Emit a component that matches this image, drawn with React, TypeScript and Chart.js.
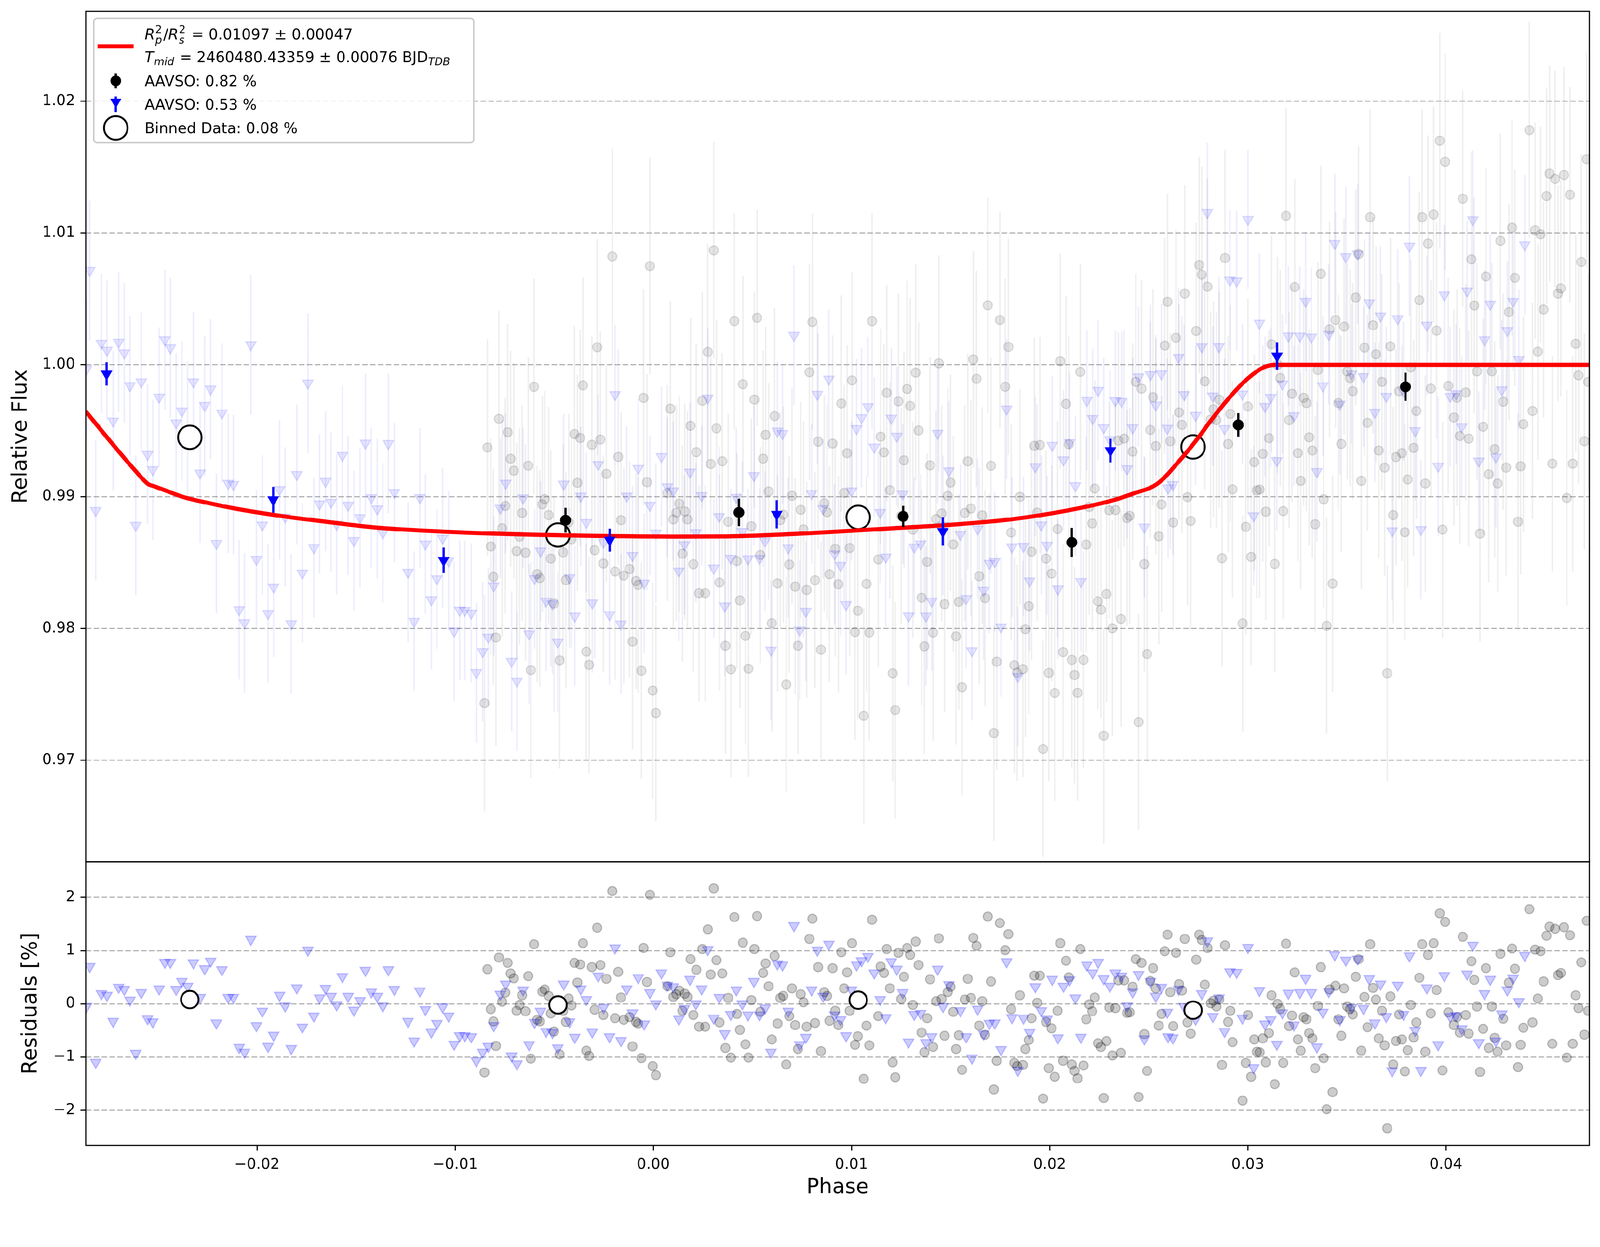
import React, { useEffect, useRef } from "react";
import { Chart, registerables } from "chart.js";

Chart.register(...registerables);

const FONT = "DejaVu Sans";
const W = 4215;
const H = 3192;

// ---- axis ranges and tick labels ----
const xMin = -0.02864;
const xMax = 0.04724;
const fluxMin = 0.9623;
const fluxMax = 1.02681;
const resMin = -2.66;
const resMax = 2.67;
const xTicks = [-0.02, -0.01, 0.0, 0.01, 0.02, 0.03, 0.04];
const fluxTicks = [0.97, 0.98, 0.99, 1.0, 1.01, 1.02];
const resTicks = [-2, -1, 0, 1, 2];

// ---- transit model (red line) ----
const modelPhase = [-0.029, -0.02865, -0.02738, -0.02616, -0.02549, -0.0252, -0.0245, -0.02372, -0.0225, -0.02127, -0.01883, -0.01638, -0.01395, -0.00944, -0.004, 0.001, 0.00343, 0.00659, 0.00929, 0.01208, 0.01515, 0.01808, 0.02101, 0.02322, 0.0242, 0.02544, 0.02661, 0.02741, 0.02821, 0.029, 0.02981, 0.03061, 0.031, 0.0314, 0.048];
const modelFlux = [0.99712, 0.99648, 0.99415, 0.992, 0.99095, 0.99079, 0.9904, 0.98997, 0.98953, 0.98914, 0.98854, 0.98807, 0.98765, 0.98727, 0.98705, 0.98697, 0.98698, 0.98713, 0.98735, 0.9876, 0.98788, 0.98828, 0.98898, 0.98973, 0.99022, 0.99098, 0.99282, 0.99429, 0.99591, 0.99738, 0.9987, 0.99965, 0.99992, 1.0, 1.0];

// ---- AAVSO 0.82 % (grey circles): [phase, residual %] ----
const grayData: [number, number][] = [
  [-0.00852, -1.29], [-0.00837, 0.65], [-0.0082, -0.1], [-0.00807, -0.33], [-0.00794, -0.79], [-0.00779, 0.87], [-0.00763, 0.04], [-0.00747, 0.21], [-0.00735, 0.77], [-0.0072, 0.57],
  [-0.00704, 0.48], [-0.0069, -0.13], [-0.00675, -0.02], [-0.00662, 0.16], [-0.00645, -0.14], [-0.00631, 0.52], [-0.00618, -1.03], [-0.00602, 1.12], [-0.00586, -0.3], [-0.00573, -0.33],
  [-0.0056, 0.23], [-0.00548, 0.27], [-0.00528, 0.15], [-0.00517, -0.18], [-0.00501, -0.52], [-0.00473, -0.95], [-0.00455, -0.13], [-0.00441, -0.34], [-0.00427, 0.1], [-0.00413, -0.03],
  [-0.00398, 0.77], [-0.00383, 0.4], [-0.00369, 0.74], [-0.00355, 1.14], [-0.00338, -0.88], [-0.00324, -0.98], [-0.0031, 0.69], [-0.00296, -0.11], [-0.00283, 1.43], [-0.00267, 0.73],
  [-0.00252, -0.21], [-0.00237, 0.47], [-0.00207, 2.12], [-0.00193, -0.27], [-0.00177, 0.6], [-0.00163, 0.12], [-0.00149, -0.3], [-0.0012, -0.25], [-0.00105, -0.8], [-0.00087, -0.34],
  [-0.00077, -0.37], [-0.0006, -1.02], [-0.00049, 1.05], [-0.00032, 0.41], [-0.00017, 2.05], [-0.00003, -1.17], [0.00013, -1.34], [0.00071, 0.33], [0.00086, 0.97], [0.00101, 0.13],
  [0.00116, 0.18], [0.00131, 0.25], [0.00147, -0.13], [0.00159, 0.19], [0.00172, 0.13], [0.00188, 0.84], [0.00202, -0.21], [0.00217, 0.64], [0.00231, -0.43], [0.00247, 1.03],
  [0.00262, -0.43], [0.00275, 1.4], [0.0029, 0.55], [0.00305, 2.17], [0.00319, 0.82], [0.00334, -0.35], [0.00348, 0.57], [0.00364, -0.83], [0.00378, 0.11], [0.00392, -1.01],
  [0.00409, 1.63], [0.00422, -0.19], [0.00437, -0.49], [0.00452, 1.15], [0.00465, -0.76], [0.0048, -1.01], [0.00495, 0.07], [0.0051, 1.03], [0.00524, 1.65], [0.0054, -0.15],
  [0.00554, 0.58], [0.00567, 0.76], [0.00582, 0.33], [0.00598, -0.67], [0.00612, 0.9], [0.00627, -0.37], [0.00641, 0.11], [0.00656, 0.15], [0.00671, -1.14], [0.00686, -0.23],
  [0.007, 0.29], [0.00716, -0.4], [0.0073, -0.85], [0.00744, 0.18], [0.00758, 0.03], [0.00774, -0.43], [0.00788, 1.22], [0.00803, 1.6], [0.00816, -0.36], [0.00832, 0.69],
  [0.00846, -0.89], [0.00863, 0.22], [0.00877, 0.15], [0.00889, -0.32], [0.00905, 0.67], [0.00918, -0.13], [0.00934, -0.4], [0.00949, 0.97], [0.00963, 0.29], [0.00978, 0.59],
  [0.00991, -0.13], [0.01003, 1.14], [0.01018, -0.77], [0.01032, -0.61], [0.01062, -1.41], [0.01076, -0.41], [0.0109, -0.78], [0.01104, 1.58], [0.01135, -0.23], [0.01147, 0.7],
  [0.01164, 0.58], [0.01178, 1.03], [0.01194, 0.29], [0.01208, -1.1], [0.01221, -1.38], [0.01237, 0.96], [0.01251, 0.09], [0.01265, 0.51], [0.01281, 1.05], [0.01296, 0.92],
  [0.0131, -0.02], [0.01324, 1.17], [0.01339, 0.73], [0.01354, -0.54], [0.01368, -0.91], [0.01382, -0.27], [0.01397, 0.46], [0.01412, -0.81], [0.01427, 0.05], [0.01441, 1.23],
  [0.01455, 0.09], [0.0147, -0.6], [0.01486, 0.22], [0.015, 0.32], [0.01514, -0.15], [0.01528, -0.85], [0.01542, -0.59], [0.01558, -1.24], [0.01572, 0.08], [0.01587, 0.47],
  [0.01603, 0.11], [0.01615, 1.24], [0.01631, 1.09], [0.01645, -0.41], [0.0166, 0.05], [0.01674, -0.58], [0.01688, 1.64], [0.01704, 0.42], [0.01719, -1.61], [0.01733, -1.07],
  [0.01749, 1.52], [0.01776, 1.01], [0.01792, 1.31], [0.01806, -0.1], [0.01822, -1.11], [0.01836, -1.17], [0.0185, 0.16], [0.01865, -1.15], [0.01878, -0.85], [0.01895, -0.68],
  [0.01909, -0.27], [0.01923, 0.53], [0.01937, 0.02], [0.01951, 0.53], [0.01967, -1.78], [0.01982, -0.34], [0.01996, -1.21], [0.0201, -0.46], [0.02026, -1.37], [0.0204, -0.13],
  [0.02054, 1.14], [0.02068, -1.07], [0.02083, 0.81], [0.02097, 0.5], [0.02112, -1.14], [0.02126, -1.26], [0.02141, -1.4], [0.02155, 1.03], [0.02171, -1.16], [0.02185, -0.29],
  [0.022, -0.01], [0.02215, -0.14], [0.02228, 0.12], [0.02244, -0.74], [0.02259, -0.81], [0.02273, -1.77], [0.02287, -0.7], [0.02301, -0.07], [0.02317, -0.97], [0.02332, -0.08],
  [0.02347, 0.44], [0.0236, -0.92], [0.02376, 0.44], [0.02391, -0.17], [0.02404, -0.16], [0.02419, 0.32], [0.02435, 0.84], [0.02449, -1.75], [0.02464, 0.77], [0.02478, -0.57],
  [0.02492, -1.26], [0.02508, 0.43], [0.02522, 0.67], [0.02536, 0.29], [0.02551, -0.41], [0.02565, -0.19], [0.02581, 0.99], [0.02595, 1.3], [0.02609, 0.22], [0.02624, -0.42],
  [0.02638, 0.96], [0.02653, 0.37], [0.02668, 0.25], [0.02682, 1.22], [0.02696, -0.35], [0.02712, -0.56], [0.0274, 0.83], [0.02755, 1.3], [0.02768, 1.2], [0.02783, 0.36],
  [0.02797, 1.05], [0.02813, 0.01], [0.02827, 0.06], [0.02842, -0.05], [0.02856, 0.08], [0.0287, -1.15], [0.02885, 1.1], [0.02901, -0.34], [0.02912, -0.13], [0.02923, -0.72],
  [0.02974, -1.82], [0.0299, -1.11], [0.03001, -0.21], [0.03017, -1.37], [0.03033, -0.67], [0.03046, -0.9], [0.0306, -0.91], [0.03076, -0.65], [0.03091, -1.1], [0.03107, -0.55],
  [0.0312, 0.16], [0.03136, -1.51], [0.0315, 0.0], [0.03164, -0.1], [0.03179, -1.11], [0.03193, 1.13], [0.03209, -0.42], [0.03223, -0.22], [0.03237, 0.59], [0.03253, -0.67],
  [0.03267, -0.88], [0.03282, -0.25], [0.03296, -0.29], [0.0331, -0.55], [0.03326, -0.65], [0.0334, -1.21], [0.03354, -0.04], [0.03369, 0.69], [0.03383, -1.02], [0.03398, -1.98],
  [0.03413, 0.27], [0.03428, -1.66], [0.03443, 0.34], [0.03457, -0.29], [0.03472, -0.6], [0.03486, 0.29], [0.03502, -0.05], [0.03516, -0.1], [0.0353, -0.2], [0.03545, 0.51],
  [0.03559, 0.84], [0.03573, -0.88], [0.03589, 0.13], [0.03604, -0.44], [0.03618, 1.12], [0.03632, 0.3], [0.03647, 0.08], [0.03661, -0.65], [0.03677, -0.13], [0.03691, -0.78],
  [0.03704, -2.34], [0.0372, 0.14], [0.03734, -1.14], [0.03748, -0.7], [0.03764, -0.2], [0.03778, -0.67], [0.03793, -1.27], [0.03807, -0.87], [0.03823, -0.02], [0.03837, -0.63],
  [0.03851, -0.35], [0.03866, 0.49], [0.0388, 1.12], [0.03896, -0.9], [0.0391, 0.92], [0.03924, -0.18], [0.03938, 1.14], [0.03953, 0.26], [0.03969, 1.7], [0.03983, -1.25],
  [0.03996, 1.54], [0.04012, -0.16], [0.0404, -0.4], [0.04056, -0.25], [0.0407, -0.54], [0.04085, 1.26], [0.041, -0.21], [0.04115, -0.56], [0.04129, 0.8], [0.04143, 0.45],
  [0.04157, -0.05], [0.04172, -1.28], [0.04188, -0.47], [0.04202, 0.67], [0.04216, -0.83], [0.04232, -0.05], [0.04246, -0.64], [0.04261, -0.9], [0.04275, 0.94], [0.04289, -0.28],
  [0.04304, -0.78], [0.04318, 0.4], [0.04334, 1.04], [0.04348, 0.66], [0.04364, -1.19], [0.04377, -0.77], [0.04391, -0.45], [0.04421, 1.78], [0.04437, -0.35], [0.0445, 1.02],
  [0.04464, 0.1], [0.04478, 0.99], [0.04493, 0.42], [0.04508, 1.28], [0.04523, 1.45], [0.04537, -0.75], [0.04551, 1.41], [0.04566, 0.54], [0.0458, 0.58], [0.04596, 1.44],
  [0.0461, -1.01], [0.04626, 1.29], [0.0464, -0.75], [0.04655, 0.16], [0.04669, -0.08], [0.04683, 0.78], [0.04699, -0.58], [0.04711, 1.56], [0.04718, -0.13],
];

// ---- AAVSO 0.53 % (blue triangles): [phase, residual %] ----
const blueData: [number, number][] = [
  [-0.0286, -0.05], [-0.02844, 0.7], [-0.02814, -1.1], [-0.02785, 0.19], [-0.02757, 0.16], [-0.02726, -0.33], [-0.02698, 0.31], [-0.0267, 0.27], [-0.02641, 0.07], [-0.02612, -0.93],
  [-0.02584, 0.21], [-0.02552, -0.28], [-0.02526, -0.34], [-0.02494, 0.28], [-0.02465, 0.78], [-0.02437, 0.78], [-0.02408, 0.27], [-0.02379, 0.42], [-0.0235, 0.33], [-0.02321, 0.77],
  [-0.02287, 0.12], [-0.02264, 0.66], [-0.02234, 0.8], [-0.02205, -0.36], [-0.02177, 0.64], [-0.02145, 0.12], [-0.02119, 0.12], [-0.0209, -0.82], [-0.02063, -0.91], [-0.02031, 1.21],
  [-0.02003, -0.41], [-0.01973, -0.14], [-0.01944, -0.8], [-0.01916, -0.59], [-0.01886, 0.16], [-0.01858, -0.04], [-0.01827, -0.84], [-0.01799, 0.3], [-0.01771, -0.44], [-0.01743, 1.01],
  [-0.01713, -0.23], [-0.01684, 0.11], [-0.01654, 0.29], [-0.01626, 0.14], [-0.01598, -0.02], [-0.01569, 0.51], [-0.0154, 0.14], [-0.01511, -0.12], [-0.0148, 0.06], [-0.01453, 0.63],
  [-0.01423, 0.22], [-0.01393, 0.14], [-0.01365, -0.04], [-0.01337, 0.64], [-0.01307, 0.27], [-0.01238, -0.33], [-0.01207, -0.7], [-0.01178, 0.24], [-0.0115, -0.11], [-0.0112, -0.53],
  [-0.01092, -0.37], [-0.01063, -0.06], [-0.01033, -0.23], [-0.01005, -0.76], [-0.00977, -0.6], [-0.00951, -0.6], [-0.00919, -0.62], [-0.00893, -1.07], [-0.00861, -0.91], [-0.00833, -0.8],
  [-0.00805, -0.41], [-0.00772, 0.18], [-0.00745, 0.37], [-0.00715, -0.98], [-0.00688, -1.13], [-0.00657, 0.26], [-0.00627, -0.77], [-0.00599, -0.35], [-0.00569, -0.14], [-0.00541, -0.52],
  [-0.00509, -0.54], [-0.00482, -0.83], [-0.00452, 0.37], [-0.00423, -0.34], [-0.00396, -0.63], [-0.00366, 0.28], [-0.00338, 0.08], [-0.00308, -0.53], [-0.00278, 0.52], [-0.00251, -0.07],
  [-0.00221, -0.62], [-0.00193, 1.05], [-0.00163, -0.69], [-0.00134, 0.28], [-0.00105, -0.17], [-0.00076, 0.49], [-0.00046, -0.38], [-0.00017, 0.21], [0.00013, 0.0], [0.00041, 0.58],
  [0.00071, 0.35], [0.001, 0.32], [0.00129, -0.29], [0.00157, -0.09], [0.00185, 0.46], [0.00215, 0.0], [0.00244, 0.28], [0.00275, 1.02], [0.00305, -0.27], [0.00333, 0.12],
  [0.00361, -0.56], [0.00391, -0.2], [0.00419, 0.26], [0.00449, 0.0], [0.00478, -0.21], [0.00508, 0.42], [0.00536, -0.21], [0.00564, -0.08], [0.00594, -0.91], [0.00626, 0.75],
  [0.00652, 0.73], [0.00681, -0.14], [0.0071, 1.47], [0.00739, -0.77], [0.0077, -0.63], [0.00799, 0.26], [0.00828, 1.01], [0.00857, 0.14], [0.00886, 1.12], [0.00915, -0.21],
  [0.00945, -0.3], [0.00973, -0.6], [0.01, 0.26], [0.01026, 0.73], [0.01051, 0.81], [0.01083, 0.89], [0.01115, 0.58], [0.01145, 0.08], [0.01173, -0.26], [0.01201, 0.79],
  [0.01229, 0.65], [0.01259, 0.21], [0.01288, -0.72], [0.01317, -0.2], [0.01349, -0.18], [0.01376, -0.73], [0.01405, -0.62], [0.01435, 0.65], [0.01462, -0.05], [0.01492, 0.36],
  [0.0155, -0.13], [0.01579, -0.62], [0.01608, -1.02], [0.01637, -0.1], [0.01667, -0.57], [0.01696, -0.37], [0.01723, -0.36], [0.01755, -0.86], [0.01783, 0.79], [0.0181, -0.26],
  [0.0184, -1.25], [0.01868, -0.27], [0.01899, -0.54], [0.01928, 0.32], [0.01958, -0.13], [0.01987, -0.29], [0.02013, 0.46], [0.02042, -0.64], [0.0207, 0.33], [0.02101, 0.45],
  [0.0213, 0.11], [0.02158, -0.63], [0.02188, 0.73], [0.02217, 0.58], [0.02245, 0.78], [0.02273, 0.47], [0.02304, 0.33], [0.02332, 0.58], [0.02363, 0.52], [0.02391, -0.04],
  [0.02419, 0.22], [0.02449, 0.55], [0.02478, -0.66], [0.02509, 0.42], [0.02536, 0.14], [0.02564, 0.31], [0.02594, -0.16], [0.02598, -0.62], [0.02622, -0.64], [0.02651, 0.27],
  [0.02679, -0.05], [0.02737, -0.29], [0.02768, 0.19], [0.02796, 1.18], [0.02824, -0.24], [0.02855, 0.11], [0.02883, -0.52], [0.0291, 0.6], [0.02944, 0.59], [0.02973, -0.27],
  [0.03001, 1.06], [0.0303, -1.2], [0.03059, 0.25], [0.03087, -0.38], [0.03116, -0.3], [0.03147, -0.76], [0.03175, -0.17], [0.03205, 0.2], [0.03233, -0.4], [0.03263, 0.21],
  [0.03292, 0.48], [0.03321, 0.21], [0.03349, -0.81], [0.03379, -0.16], [0.03409, 0.23], [0.03439, 0.92], [0.03465, -0.3], [0.03495, 0.82], [0.03524, -0.07], [0.03555, 0.84],
  [0.03584, -0.09], [0.03613, 0.47], [0.03641, -0.36], [0.0367, 0.37], [0.03699, -0.24], [0.03729, -1.26], [0.03757, 0.35], [0.03786, -0.2], [0.03816, 0.9], [0.03845, -0.5],
  [0.03874, -1.25], [0.03904, 0.3], [0.03961, -0.77], [0.03992, 0.53], [0.04022, -0.24], [0.04051, -0.22], [0.0408, -0.47], [0.04107, 0.56], [0.04136, 1.1], [0.04166, -0.73],
  [0.04195, 0.19], [0.04224, 0.46], [0.04252, -0.7], [0.04282, -0.19], [0.0431, 0.26], [0.04339, 0.48], [0.04368, 0.04], [0.04398, 0.91],
];

// offset (in %) between the blue flux in the top panel and model + residual
const blueOffPhase = [-0.029, -0.0285, -0.0276, -0.0265, -0.0255, -0.025, -0.0244, -0.0238, -0.0232, -0.0226, -0.02, -0.015, 0.015, 0.02, 0.0226, 0.0238, 0.0245, 0.0251, 0.0256, 0.0265, 0.0275, 0.0285, 0.03, 0.0315, 0.033, 0.048];
const blueOffPct = [0.3, 0.4, 0.5, 0.53, 0.5, 0.42, 0.32, 0.23, 0.12, 0.07, 0.05, 0.0, 0.05, 0.05, 0.08, 0.23, 0.32, 0.43, 0.49, 0.52, 0.48, 0.38, 0.15, 0.03, 0.0, 0.0];

const grayErr = 0.0082;
const blueErr = 0.0053;

// ---- binned data ----
const binPhase = [-0.02339, -0.00481, 0.01034, 0.02724];
const binFlux = [0.9945, 0.98709, 0.98843, 0.99377];
const binRes = [0.08, -0.02, 0.07, -0.12];

const blackBinPhase = [-0.00443, 0.00432, 0.01261, 0.02112, 0.02952, 0.03796];
const blackBinFlux = [0.98821, 0.9888, 0.9885, 0.98653, 0.99544, 0.99833];
const blackBinErr = [0.00094, 0.00104, 0.0008, 0.0011, 0.00089, 0.00107];

const blueBinPhase = [-0.02759, -0.01918, -0.01058, -0.0022, 0.00623, 0.01461, 0.02307, 0.03148];
const blueBinFlux = [0.99931, 0.98976, 0.98517, 0.9867, 0.98866, 0.98736, 0.99349, 1.00067];
const blueBinErr = [0.00088, 0.00098, 0.00097, 0.00087, 0.00107, 0.00108, 0.0009, 0.00104];

// ---- helpers ----
function interp(xs: number[], ys: number[], x: number) {
  if (x <= xs[0]) return ys[0];
  for (let i = 1; i < xs.length; i++) {
    if (x <= xs[i]) {
      const t = (x - xs[i - 1]) / (xs[i] - xs[i - 1]);
      return ys[i - 1] + t * (ys[i] - ys[i - 1]);
    }
  }
  return ys[ys.length - 1];
}

function errSegments(pts: { x: number; y: number }[], errs: number[] | number) {
  const out: { x: number; y: number | null }[] = [];
  pts.forEach((p, i) => {
    const e = Array.isArray(errs) ? errs[i] : errs;
    out.push({ x: p.x, y: p.y - e }, { x: p.x, y: p.y + e }, { x: p.x, y: null });
  });
  return out;
}

const fmtX = (v: number) => {
  const s = Math.abs(v).toFixed(2);
  return v < -1e-9 ? "\u2212" + s : s;
};
const fmtRes = (v: number) => (v < 0 ? "\u2212" + Math.abs(v) : String(v));

const framePlugin = {
  id: "frame",
  afterDatasetsDraw(chart: any) {
    const { ctx, chartArea: a } = chart;
    ctx.save();
    ctx.strokeStyle = "#000";
    ctx.lineWidth = 3;
    ctx.strokeRect(a.left, a.top, a.right - a.left, a.bottom - a.top);
    ctx.restore();
  },
};

type Run = { t: string; it?: boolean; size?: number; dy?: number; sub?: string; sup?: string; subDy?: number; kern?: number };

function drawRuns(ctx: CanvasRenderingContext2D, x0: number, base: number, runs: Run[]) {
  let x = x0;
  for (const r of runs) {
    if (r.sub !== undefined || r.sup !== undefined) {
      let w = 0;
      if (r.sup !== undefined) {
        ctx.font = `28px "${FONT}"`;
        ctx.fillText(r.sup, x, base - 17);
        w = Math.max(w, ctx.measureText(r.sup).width);
      }
      if (r.sub !== undefined) {
        ctx.font = `italic 28px "${FONT}"`;
        ctx.fillText(r.sub, x, base + (r.subDy ?? 9));
        w = Math.max(w, ctx.measureText(r.sub).width);
      }
      x += w + (r.kern ?? 4);
      continue;
    }
    ctx.font = `${r.it ? "italic " : ""}${r.size ?? 39}px "${FONT}"`;
    ctx.fillText(r.t, x, base - (r.dy ?? 0));
    x += ctx.measureText(r.t).width + (r.kern ?? 0);
  }
}

const legendPlugin = {
  id: "mplLegend",
  afterDraw(chart: any) {
    const ctx: CanvasRenderingContext2D = chart.ctx;
    ctx.save();
    const bx = 247, by = 48, bw = 1001, bh = 328, rr = 9;
    ctx.beginPath();
    ctx.moveTo(bx + rr, by);
    ctx.arcTo(bx + bw, by, bx + bw, by + bh, rr);
    ctx.arcTo(bx + bw, by + bh, bx, by + bh, rr);
    ctx.arcTo(bx, by + bh, bx, by, rr);
    ctx.arcTo(bx, by, bx + bw, by, rr);
    ctx.closePath();
    ctx.fillStyle = "rgba(255,255,255,0.8)";
    ctx.fill();
    ctx.strokeStyle = "#cccccc";
    ctx.lineWidth = 4;
    ctx.stroke();

    ctx.strokeStyle = "#ff0000";
    ctx.lineWidth = 11;
    ctx.beginPath();
    ctx.moveTo(257, 122);
    ctx.lineTo(352, 122);
    ctx.stroke();

    ctx.strokeStyle = "#000";
    ctx.lineWidth = 6;
    ctx.beginPath();
    ctx.moveTo(305, 193);
    ctx.lineTo(305, 233);
    ctx.stroke();
    ctx.fillStyle = "#000";
    ctx.beginPath();
    ctx.arc(305, 213, 14, 0, Math.PI * 2);
    ctx.fill();

    ctx.strokeStyle = "#0000ff";
    ctx.beginPath();
    ctx.moveTo(305, 254);
    ctx.lineTo(305, 295);
    ctx.stroke();
    ctx.fillStyle = "#0000ff";
    const r = 17, cy = 268.5;
    ctx.beginPath();
    ctx.moveTo(305, cy + r);
    ctx.lineTo(305 - r * 0.866, cy - r / 2);
    ctx.lineTo(305 + r * 0.866, cy - r / 2);
    ctx.closePath();
    ctx.fill();

    ctx.fillStyle = "#fff";
    ctx.strokeStyle = "#000";
    ctx.lineWidth = 5;
    ctx.beginPath();
    ctx.arc(305, 337, 31, 0, Math.PI * 2);
    ctx.fill();
    ctx.stroke();

    ctx.fillStyle = "#000";
    ctx.textBaseline = "alphabetic";
    ctx.textAlign = "left";
    const tx = 381;
    drawRuns(ctx, tx, 104, [
      { t: "R", it: true, kern: 1 },
      { t: "", sup: "2", sub: "p", subDy: 11, kern: 3 },
      { t: "/" },
      { t: "R", it: true, kern: 1 },
      { t: "", sup: "2", sub: "s", subDy: 11, kern: 3 },
      { t: " = 0.01097 \u00b1 0.00047" },
    ]);
    drawRuns(ctx, tx, 164, [
      { t: "T", it: true, kern: 1 },
      { t: "", sub: "mid", subDy: 8, kern: 2 },
      { t: " = 2460480.43359 \u00b1 0.00076 BJD" },
      { t: "", sub: "TDB", subDy: 8 },
    ]);
    ctx.font = `39px "${FONT}"`;
    ctx.fillText("AAVSO: 0.82 %", tx, 227);
    ctx.fillText("AAVSO: 0.53 %", tx, 289);
    ctx.fillText("Binned Data: 0.08 %", tx, 351);
    ctx.restore();
  },
};

const tickFont = { family: FONT, size: 39 };
const titleFont = { family: FONT, size: 55 };

export default function App() {
  const wrapRef = useRef<HTMLDivElement>(null);
  const topRef = useRef<HTMLCanvasElement>(null);
  const botRef = useRef<HTMLCanvasElement>(null);

  useEffect(() => {
    document.body.style.margin = "0";
    document.body.style.overflow = "hidden";
    const vw = window.innerWidth || W;
    const s = vw / W;
    if (wrapRef.current) {
      wrapRef.current.style.transform = Math.abs(s - 1) > 0.001 ? `scale(${s})` : "none";
    }

    const modelAt = (x: number) => interp(modelPhase, modelFlux, x);
    const blueOffAt = (x: number) => interp(blueOffPhase, blueOffPct, x);

    const grayTop = grayData.map(([p, r]) => ({ x: p, y: modelAt(p) + r / 100 }));
    const blueTop = blueData.map(([p, r]) => ({ x: p, y: modelAt(p) + (r + blueOffAt(p)) / 100 }));
    const modelPts = modelPhase.map((p, i) => ({ x: p, y: modelFlux[i] }));
    const binPts = binPhase.map((p, i) => ({ x: p, y: binFlux[i] }));
    const blackPts = blackBinPhase.map((p, i) => ({ x: p, y: blackBinFlux[i] }));
    const blueBinPts = blueBinPhase.map((p, i) => ({ x: p, y: blueBinFlux[i] }));

    const errLine = (data: any[], color: string, width: number, order: number) => ({
      type: "line",
      data,
      showLine: true,
      borderColor: color,
      borderWidth: width,
      pointRadius: 0,
      spanGaps: false,
      tension: 0,
      borderCapStyle: "butt",
      order,
    });
    const pts = (data: any[], style: string, radius: number, bg: string, border: string, bw: number, order: number, rot = 0) => ({
      type: "line",
      data,
      showLine: false,
      pointStyle: style,
      pointRadius: radius,
      pointRotation: rot,
      pointBackgroundColor: bg,
      pointBorderColor: border,
      pointBorderWidth: bw,
      backgroundColor: bg,
      borderColor: border,
      order,
    });

    const top = new Chart(topRef.current as HTMLCanvasElement, {
      type: "line",
      data: {
        datasets: [
          errLine(errSegments(grayTop, grayErr), "rgba(128,128,128,0.13)", 4, 20),
          pts(grayTop, "circle", 12, "rgba(0,0,0,0.1)", "rgba(0,0,0,0.12)", 3, 19),
          errLine(errSegments(blueTop, blueErr), "rgba(0,0,255,0.07)", 4, 18),
          pts(blueTop, "triangle", 16, "rgba(0,0,255,0.1)", "rgba(0,0,255,0.12)", 3, 17, 180),
          pts(binPts, "circle", 31, "#ffffff", "#000000", 5, 15),
          {
            type: "line",
            data: modelPts,
            borderColor: "#ff0000",
            borderWidth: 11,
            pointRadius: 0,
            cubicInterpolationMode: "monotone",
            borderJoinStyle: "round",
            order: 14,
          },
          errLine(errSegments(blackPts, blackBinErr), "#000000", 6, 13),
          pts(blackPts, "circle", 14, "#000000", "#000000", 1, 12),
          errLine(errSegments(blueBinPts, blueBinErr), "#0000ff", 6, 11),
          pts(blueBinPts, "triangle", 17, "#0000ff", "#0000ff", 1, 10, 180),
        ] as any,
      },
      options: {
        animation: false,
        responsive: false,
        devicePixelRatio: 1,
        events: [],
        layout: { autoPadding: false, padding: { left: 0, right: 28, top: 30, bottom: 20 } },
        plugins: { legend: { display: false }, tooltip: { enabled: false } },
        scales: {
          x: {
            type: "linear",
            min: xMin,
            max: xMax,
            display: false,
            afterFit: (sc: any) => {
              sc.paddingLeft = 0;
              sc.paddingRight = 0;
            },
          },
          y: {
            type: "linear",
            min: fluxMin,
            max: fluxMax,
            afterBuildTicks: (sc: any) => {
              sc.ticks = fluxTicks.map((v) => ({ value: v }));
            },
            afterFit: (sc: any) => {
              sc.width = 226;
              sc.paddingTop = 0;
              sc.paddingBottom = 0;
            },
            ticks: {
              callback: (v: any) => Number(v).toFixed(2),
              font: tickFont,
              color: "#000",
              padding: 14,
              autoSkip: false,
            },
            grid: { color: "#b0b0b0", lineWidth: 3, tickLength: 14, tickWidth: 3, tickColor: "#000" },
            border: { display: false, dash: [14.5, 6.3] },
            title: { display: true, text: "Relative Flux", font: titleFont, color: "#000", padding: { top: 23, bottom: 0 } },
          },
        },
      } as any,
      plugins: [framePlugin, legendPlugin],
    });

    const bot = new Chart(botRef.current as HTMLCanvasElement, {
      type: "line",
      data: {
        datasets: [
          pts(grayData.map(([p, r]) => ({ x: p, y: r })), "circle", 12, "rgba(0,0,0,0.2)", "rgba(0,0,0,0.22)", 3, 5),
          pts(blueData.map(([p, r]) => ({ x: p, y: r })), "triangle", 16, "rgba(0,0,255,0.2)", "rgba(0,0,255,0.22)", 3, 4, 180),
          pts(binPhase.map((p, i) => ({ x: p, y: binRes[i] })), "circle", 23, "#ffffff", "#000000", 5, 3),
        ] as any,
      },
      options: {
        animation: false,
        responsive: false,
        devicePixelRatio: 1,
        events: [],
        layout: { autoPadding: false, padding: { left: 0, right: 28, top: 10, bottom: 0 } },
        plugins: { legend: { display: false }, tooltip: { enabled: false } },
        scales: {
          x: {
            type: "linear",
            min: xMin,
            max: xMax,
            afterBuildTicks: (sc: any) => {
              sc.ticks = xTicks.map((v) => ({ value: v }));
            },
            afterFit: (sc: any) => {
              sc.height = 175;
              sc.paddingLeft = 0;
              sc.paddingRight = 0;
            },
            ticks: {
              callback: (v: any) => fmtX(Number(v)),
              font: tickFont,
              color: "#000",
              padding: 14,
              maxRotation: 0,
              autoSkip: false,
            },
            grid: { drawOnChartArea: false, tickLength: 14, tickWidth: 3, tickColor: "#000" },
            border: { display: false },
            title: { display: true, text: "Phase", font: titleFont, color: "#000", padding: { top: 0, bottom: 30 } },
          },
          y: {
            type: "linear",
            min: resMin,
            max: resMax,
            afterBuildTicks: (sc: any) => {
              sc.ticks = resTicks.map((v) => ({ value: v }));
            },
            afterFit: (sc: any) => {
              sc.width = 226;
              sc.paddingTop = 0;
              sc.paddingBottom = 0;
            },
            ticks: {
              callback: (v: any) => fmtRes(Number(v)),
              font: tickFont,
              color: "#000",
              padding: 14,
              autoSkip: false,
            },
            grid: { color: "#b0b0b0", lineWidth: 3, tickLength: 14, tickWidth: 3, tickColor: "#000" },
            border: { display: false, dash: [14.5, 6.3] },
            title: { display: true, text: "Residuals [%]", font: titleFont, color: "#000", padding: { top: 49, bottom: 0 } },
          },
        },
      } as any,
      plugins: [framePlugin],
    });

    return () => {
      top.destroy();
      bot.destroy();
    };
  }, []);

  return (
    <div
      ref={wrapRef}
      style={{ position: "absolute", left: 0, top: 0, width: W, height: H, background: "#ffffff", overflow: "hidden", transformOrigin: "0 0" }}
    >
      <canvas ref={topRef} width={W} height={2290} style={{ position: "absolute", left: 0, top: 0, width: W, height: 2290 }} />
      <canvas ref={botRef} width={W} height={932} style={{ position: "absolute", left: 0, top: 2260, width: W, height: 932 }} />
    </div>
  );
}
